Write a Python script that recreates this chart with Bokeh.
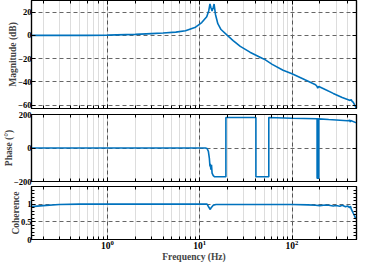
from bokeh.plotting import figure
from bokeh.models import LogAxis, LinearAxis, FixedTicker, Range1d
from bokeh.layouts import column
from bokeh.embed import file_html
from bokeh.resources import INLINE

# ---- data ----
freq_mag = [0.15, 0.3, 0.6, 1, 2, 3, 4, 5.5, 7, 9, 10.5, 11.9, 12.5, 12.9, 13.2,
            13.6, 14.0, 14.3, 14.8, 15.7, 17, 19.9, 23, 27.5, 35, 45, 48, 50, 61,
            80, 100, 140, 180, 187, 190, 195, 220, 280, 350, 420, 440, 450, 460, 500]
mag_db = [0, 0, 0, 0.2, 0.8, 1.5, 2.0, 2.8, 4.0, 7.0, 11, 16, 21, 27, 24,
          21, 24, 27, 18, 10, 5, 0, -4.5, -9.5, -14.5, -18.8, -20, -20.5, -25,
          -30, -33, -38.5, -42.5, -44, -45.5, -44, -46, -50, -53.6, -56, -55.5, -57, -57.5, -63]

freq_ph = [0.15, 11.5, 12.0, 12.4, 12.7, 12.9, 13.0, 13.2, 13.4, 13.6, 14.0, 14.5, 15,
           19.2, 19.2, 40.6, 40.6, 56, 56, 100, 187, 187, 189, 189, 192, 192, 195, 195,
           250, 400, 425, 428, 432, 500]
phase_deg = [0, 0, -3, -20, -60, -110, -95, -130, -100, -150, -165, -172, -172,
             -172, 182, 182, -172, -172, 182, 178, 175, -180, -180, 175, 175, -180, -180, 174,
             170, 163, 165, 155, 164, 150]

freq_coh = [0.15, 0.2, 0.3, 0.5, 12, 12.5, 13, 13.3, 14, 15, 100, 150, 180, 200, 230,
            250, 280, 300, 330, 350, 380, 400, 420, 430, 440, 450, 460, 470, 485, 500]
coherence = [0.93, 0.96, 0.99, 1.0, 1.0, 0.92, 0.85, 0.9, 0.97, 0.99, 0.99, 0.98, 0.97, 0.96, 0.975,
             0.97, 0.95, 0.96, 0.94, 0.97, 0.93, 0.95, 0.9, 0.94, 0.85, 0.8, 0.75, 0.7, 0.62, 0.58]

mag_ticks = [-60, -40, -20, 0, 20]
phase_ticks = [-200, 0, 200]
coh_ticks = [0, 0.5, 1]
coh_minor = [0.1, 0.2, 0.3, 0.4, 0.6, 0.7, 0.8, 0.9, 1.1, 1.2, 1.3, 1.4]

BLUE = "#0072BD"
FONT = "Liberation Serif"
x_range = Range1d(0.15, 500)


def style_axis(ax, show_labels, size="8.5px"):
    ax.axis_line_width = 1.2
    ax.axis_line_color = "black"
    ax.major_tick_in = 4
    ax.major_tick_out = 0
    ax.minor_tick_in = 3
    ax.minor_tick_out = 0
    ax.major_tick_line_color = "black"
    ax.minor_tick_line_color = "black"
    ax.major_label_text_font = FONT
    ax.major_label_text_font_style = "bold"
    if show_labels:
        ax.major_label_text_color = "black"
        ax.major_label_text_font_size = size
        ax.major_label_standoff = 0
    else:
        ax.major_label_text_color = None
        ax.major_label_text_font_size = "1px"
        ax.major_label_standoff = 0


def make(height, y_range, yticks, ylabel, show_x, minor=None, b_top=0, b_bot=0):
    p = figure(width=358, height=height, x_axis_type="log", x_range=x_range,
               y_range=y_range, output_backend="svg", toolbar_location=None,
               min_border_left=23, min_border_right=2, min_border_top=b_top,
               min_border_bottom=b_bot)
    p.add_layout(LogAxis(), "above")
    p.add_layout(LinearAxis(), "right")
    for ax in p.above:
        style_axis(ax, False)
    for ax in p.below:
        style_axis(ax, show_x, "9.5px")
    tk = FixedTicker(ticks=yticks, minor_ticks=minor or [])
    for ax in p.left:
        ax.ticker = tk
        style_axis(ax, True)
    for ax in p.right:
        ax.ticker = tk
        style_axis(ax, False)
    yl = p.left[0]
    yl.axis_label = ylabel
    yl.axis_label_text_font = FONT
    yl.axis_label_text_font_style = "bold"
    yl.axis_label_text_font_size = "9.5px"
    yl.axis_label_standoff = -3
    p.xgrid.grid_line_color = "#555555"
    p.xgrid.grid_line_dash = "4 3"
    p.xgrid.grid_line_width = 1
    p.xgrid.minor_grid_line_color = "#bbbbbb"
    p.xgrid.minor_grid_line_dash = "1 1"
    p.ygrid.grid_line_color = "#666666"
    p.ygrid.grid_line_dash = "4 3"
    p.outline_line_color = "black"
    p.outline_line_width = 1.2
    return p


p1 = make(110, Range1d(-63, 30), mag_ticks, "Magnitude (dB)", False, b_top=0, b_bot=2)
p1.line(freq_mag, mag_db, line_color=BLUE, line_width=1.6)

p2 = make(76, Range1d(-200, 200), phase_ticks, "Phase (°)", False, b_top=4, b_bot=5)
p2.line(freq_ph, phase_deg, line_color=BLUE, line_width=1.6)

p3 = make(78, Range1d(0, 1.5), coh_ticks, "Coherence", True, minor=coh_minor, b_top=0, b_bot=0)
p3.line(freq_coh, coherence, line_color=BLUE, line_width=1.6)
xb = p3.below[0]
xb.axis_label = "Frequency (Hz)"
xb.axis_label_text_font = FONT
xb.axis_label_text_font_style = "bold"
xb.axis_label_text_font_size = "9.5px"
xb.axis_label_standoff = 0

layout = column(p1, p2, p3, spacing=0)
open("out.html", "w").write(file_html(layout, INLINE))
